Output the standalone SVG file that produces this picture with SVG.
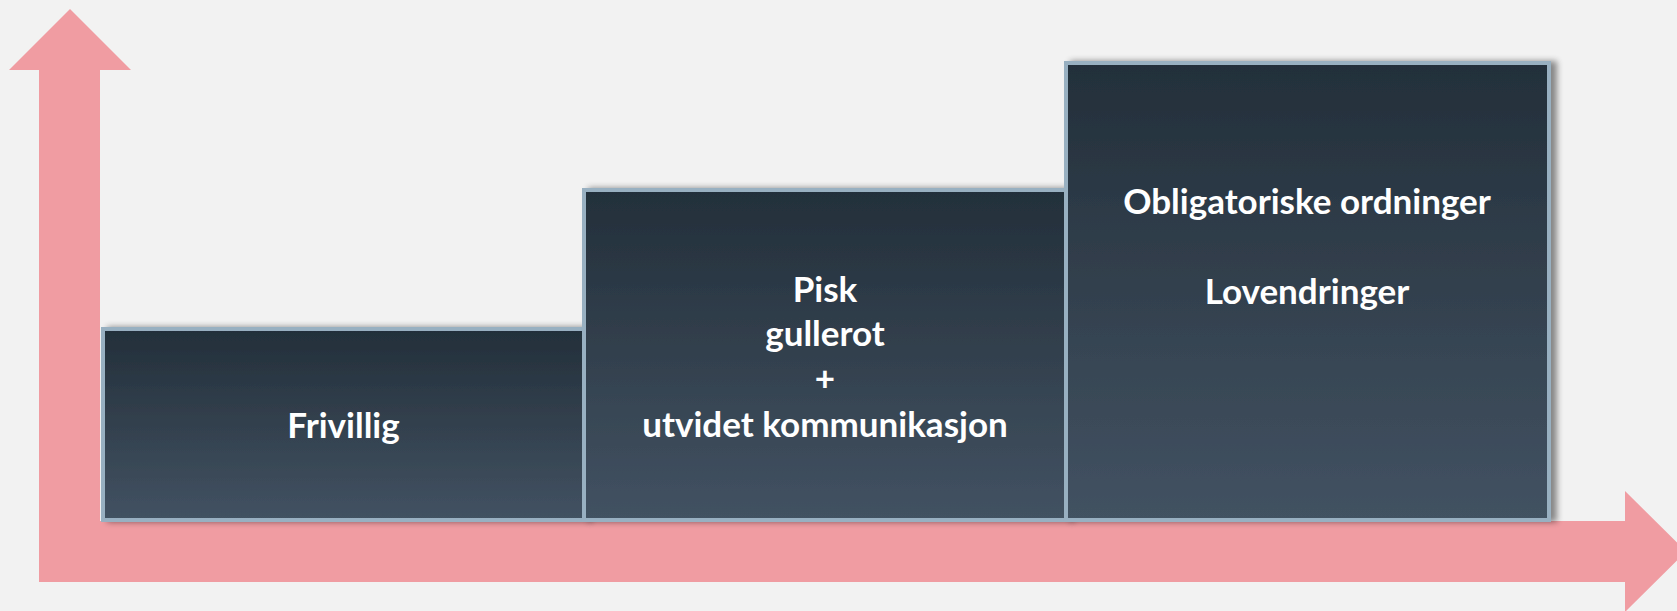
<svg xmlns="http://www.w3.org/2000/svg" width="1677" height="611" viewBox="0 0 1677 611">
  <style>
    .box { stroke: #98b0c1; stroke-width: 4; fill: url(#boxgrad); }
    .lbl { font-family: "Lato", "Liberation Sans", sans-serif; font-weight: bold; font-size: 35px; fill: #ffffff; text-anchor: middle; }
    .axis { fill: #f09ca2; }
  </style>
  <defs>
    <linearGradient id="boxgrad" x1="0" y1="0" x2="0" y2="1">
      <stop offset="0" stop-color="#232f3a"/>
      <stop offset="1" stop-color="#425262"/>
    </linearGradient>
    <filter id="shadow" x="-5%" y="-5%" width="115%" height="115%">
      <feGaussianBlur in="SourceAlpha" stdDeviation="3"/>
      <feOffset dx="6" dy="0" result="b"/>
      <feComponentTransfer><feFuncA type="linear" slope="0.45"/></feComponentTransfer>
      <feMerge><feMergeNode/><feMergeNode in="SourceGraphic"/></feMerge>
    </filter>
  </defs>
  <rect width="1677" height="611" fill="#f2f2f2"/>

  <g id="connectors">
    <polygon class="axis" points="9,70 70,9 131,70 100,70 100,582 39,582 39,70"/>
    <polygon class="axis" points="39,521 1625,521 1625,491 1686,551.5 1625,612 1625,582 39,582"/>
  </g>

  <g id="node-frivillig">
    <rect class="box" x="103" y="329" width="481" height="191" filter="url(#shadow)"/>
    <text class="lbl" x="343.5" y="438">Frivillig</text>
  </g>

  <g id="node-pisk">
    <rect class="box" x="584" y="190" width="482" height="330" filter="url(#shadow)"/>
    <text class="lbl" x="825" y="302">Pisk</text>
    <text class="lbl" x="825" y="346">gullerot</text>
    <text class="lbl" x="825" y="391">+</text>
    <text class="lbl" x="825" y="437">utvidet kommunikasjon</text>
  </g>

  <g id="node-obligatoriske">
    <rect class="box" x="1066" y="63" width="483" height="457" filter="url(#shadow)"/>
    <text class="lbl" x="1307" y="214">Obligatoriske ordninger</text>
    <text class="lbl" x="1307" y="304">Lovendringer</text>
  </g>
</svg>
